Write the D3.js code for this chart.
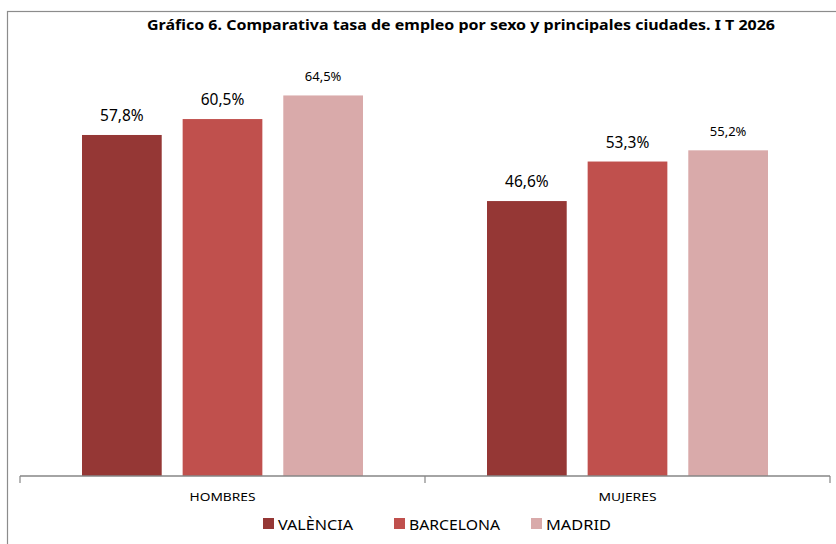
<!DOCTYPE html>
<html>
<head>
<meta charset="utf-8">
<script src="https://cdn.jsdelivr.net/npm/d3@7"></script>
<style>
  body { margin: 0; background: #fff; }
  svg { display: block; font-family: 'Noto Sans', 'Open Sans', sans-serif; }
</style>
</head>
<body>
<div id="chart"></div>
<script>
const categories = ['HOMBRES', 'MUJERES']
const cities = ['VALÈNCIA', 'BARCELONA', 'MADRID']
const valencia = [57.8, 46.6]
const barcelona = [60.5, 53.3]
const madrid = [64.5, 55.2]
const colors = ['#953735', '#C0504D', '#D9AAAA']

const W = 836, H = 544
const svg = d3.select('#chart').append('svg').attr('width', W).attr('height', H)

// chart area frame
svg.append('rect')
  .attr('x', 7.5).attr('y', 11.5)
  .attr('width', W + 10).attr('height', H + 10)
  .attr('fill', 'none').attr('stroke', '#8c8c8c').attr('stroke-width', 1.2)

svg.append('text')
  .attr('x', 461).attr('y', 30)
  .attr('text-anchor', 'middle')
  .attr('font-size', 14).attr('font-weight', 700)
  .attr('textLength', 628).attr('lengthAdjust', 'spacingAndGlyphs')
  .text('Gráfico 6. Comparativa tasa de empleo por sexo y principales ciudades. I T 2026')

const x0 = d3.scaleBand().domain(categories).range([20, 830])
const x1 = d3.scaleBand().domain(cities).range([62, x0.bandwidth() - 62]).paddingInner(0.208)
const y = d3.scaleLinear().domain([0, 70]).range([476, 63])

const series = cities.map((c, i) => ({
  city: c,
  color: colors[i],
  values: [valencia, barcelona, madrid][i]
}))

const groups = svg.selectAll('g.cat')
  .data(categories)
  .enter().append('g')
  .attr('class', 'cat')
  .attr('transform', d => `translate(${x0(d)},0)`)

groups.each(function(cat, ci) {
  const g = d3.select(this)
  series.forEach((s, si) => {
    const v = s.values[ci]
    g.append('rect')
      .attr('x', x1(s.city))
      .attr('y', y(v))
      .attr('width', x1.bandwidth())
      .attr('height', y(0) - y(v))
      .attr('fill', s.color)
    g.append('text')
      .attr('x', x1(s.city) + x1.bandwidth() / 2)
      .attr('y', y(v) - 14)
      .attr('text-anchor', 'middle')
      .attr('font-size', si === 2 ? 13 : 15.5)
      .attr('fill', '#000')
      .text(d3.format('.1f')(v).replace('.', ',') + '%')
  })
})

// axis
const axis = svg.append('g').attr('transform', `translate(0,${y(0)})`)
axis.append('line')
  .attr('x1', x0.range()[0]).attr('x2', x0.range()[1])
  .attr('stroke', '#868686').attr('stroke-width', 1.5)
const tickXs = [x0(categories[0]), x0(categories[1]), x0.range()[1]]
axis.selectAll('line.tick')
  .data(tickXs)
  .enter().append('line')
  .attr('class', 'tick')
  .attr('x1', d => d).attr('x2', d => d)
  .attr('y1', 0).attr('y2', 7)
  .attr('stroke', '#868686').attr('stroke-width', 1.2)
axis.selectAll('text')
  .data(categories)
  .enter().append('text')
  .attr('x', d => x0(d) + x0.bandwidth() / 2)
  .attr('y', 25)
  .attr('text-anchor', 'middle')
  .attr('font-size', 11.5)
  .attr('textLength', d => d === 'HOMBRES' ? 66 : 58)
  .attr('lengthAdjust', 'spacingAndGlyphs')
  .text(d => d)

// legend
const legendStarts = [263, 394, 531]
const legendWidths = [75, 91, 65]
const legend = svg.selectAll('g.legend')
  .data(series)
  .enter().append('g')
  .attr('class', 'legend')
  .attr('transform', (d, i) => `translate(${legendStarts[i]},518)`)
legend.append('rect')
  .attr('width', 11).attr('height', 11)
  .attr('fill', d => d.color)
legend.append('text')
  .attr('x', 15).attr('y', 11.5)
  .attr('font-size', 15)
  .attr('textLength', (d, i) => legendWidths[i])
  .attr('lengthAdjust', 'spacingAndGlyphs')
  .text(d => d.city)
</script>
</body>
</html>
